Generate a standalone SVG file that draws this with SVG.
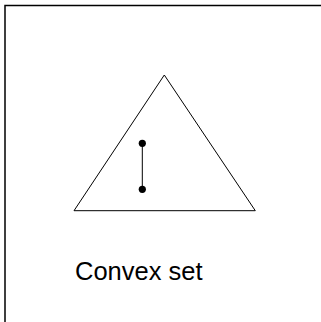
<svg xmlns="http://www.w3.org/2000/svg" width="321" height="322" viewBox="0 0 321 322">
<style>
.frame{fill:none;stroke:#000;stroke-width:1.5}
.shape{fill:none;stroke:#000;stroke-width:1}
.dot{fill:#000}
.lbl{font-family:"Liberation Sans",Arial,sans-serif;font-size:25.5px;fill:#000}
</style>
<rect width="321" height="322" fill="#fff"/>
<g id="frame"><rect class="frame" x="5" y="5.5" width="330" height="330"/></g>
<g id="triangle"><polygon class="shape" points="164.3,75 74,210.7 255.3,210.7"/></g>
<g id="connectors"><line class="shape" x1="142.3" y1="143.3" x2="142.3" y2="189.3" stroke="#333"/></g>
<g id="p1"><circle class="dot" cx="142.3" cy="143.3" r="3.6"/></g>
<g id="p2"><circle class="dot" cx="142.3" cy="189.3" r="3.6"/></g>
<g id="label"><text class="lbl" x="75" y="279.5">Convex set</text></g>
</svg>
